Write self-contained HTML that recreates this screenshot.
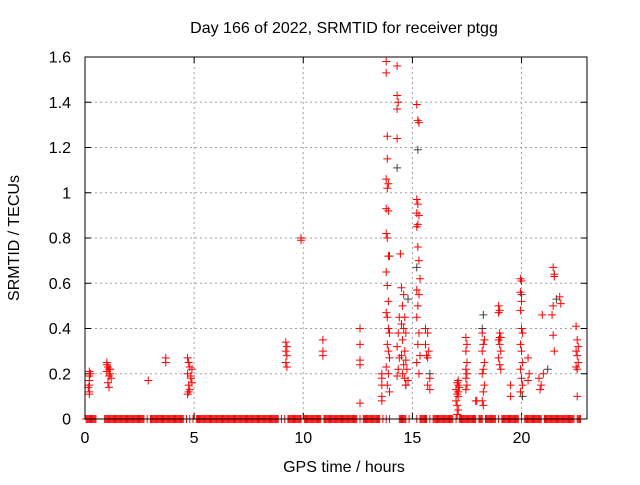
<!DOCTYPE html>
<html><head><meta charset="utf-8"><style>
body{margin:0;background:#fff;width:640px;height:480px;overflow:hidden}
text{font-family:"Liberation Sans",sans-serif;font-size:16px;fill:#000}
</style></head><body>
<svg id="chart" width="640" height="480" viewBox="0 0 640 480" xmlns="http://www.w3.org/2000/svg">
<text x="344" y="33" text-anchor="middle">Day 166 of 2022, SRMTID for receiver ptgg</text>
<text x="344" y="472" text-anchor="middle">GPS time / hours</text>
<text x="0" y="0" text-anchor="middle" transform="translate(19,238) rotate(-90)">SRMTID / TECUs</text>
<g id="grid"></g>
<g id="axes"></g>
<g id="black"></g>
<g id="red"></g>
<rect x="85" y="57" width="502" height="362" fill="none" stroke="#000" stroke-width="1"/>
</svg>
<script>
const xTicks=[0,5,10,15,20];
const yTicks=[0,0.2,0.4,0.6,0.8,1,1.2,1.4,1.6];
const yTickLabels=["0","0.2","0.4","0.6","0.8","1","1.2","1.4","1.6"];
const redHours=[0.2,0.2,0.2,0.2,0.2,0.25,0.15,0.2, 1.0,1.05,1.1,1.0,1.15,1.1,1.2,1.05,1.1,1.0,1.15, 2.9, 3.7,3.7, 4.7,4.75,4.8,4.7,4.85,4.75,4.8,4.7,4.9,4.85,4.9,4.75, 9.2,9.25,9.2,9.25,9.2,9.25, 9.9,9.9, 10.9,10.9,10.9, 12.6,12.6,12.6,12.6,12.6, 13.6,13.6,13.6,13.6,13.6];
const redValues=[0.12,0.15,0.17,0.19,0.21,0.2,0.14,0.11, 0.25,0.23,0.22,0.21,0.2,0.19,0.18,0.16,0.14,0.24,0.22, 0.17, 0.25,0.27, 0.27,0.25,0.23,0.2,0.18,0.15,0.13,0.11,0.22,0.19,0.16,0.12, 0.34,0.32,0.3,0.28,0.25,0.23, 0.8,0.79, 0.35,0.3,0.28, 0.4,0.33,0.26,0.24,0.07, 0.2,0.18,0.1,0.08,0.15];
const redHours2=[13.8,13.8,13.85,13.85,13.8,13.9,13.85,13.8,13.9,13.8,13.85,13.9,13.8,13.85,13.9,13.8,13.85,13.9,13.95,13.85,13.9,13.95,13.8,13.9,13.85,13.95, 14.3,14.3,14.35,14.3,14.3,14.45,14.4,14.35,14.3,14.4,14.35,14.3, 14.5,14.6,14.55,14.65,14.5,14.6,14.7,14.55,14.65,14.5,14.7,14.6,14.75,14.55,14.65,14.7,14.8, 15.2,15.25,15.3,15.2,15.25,15.2,15.3,15.25,15.2,15.25,15.3,15.35,15.2,15.3,15.25,15.2,15.3,15.25,15.35,15.2,15.3, 15.6,15.7,15.6,15.75,15.65,15.7,15.8,15.7,15.8];
const redValues2=[1.58,1.53,1.25,1.15,1.06,1.04,1.02,0.93,0.92,0.82,0.8,0.72,0.65,0.59,0.52,0.47,0.45,0.4,0.38,0.33,0.3,0.27,0.23,0.2,0.15,0.12, 1.56,1.43,1.4,1.37,1.24,0.73,0.45,0.38,0.32,0.27,0.22,0.19, 0.58,0.55,0.5,0.45,0.42,0.4,0.38,0.35,0.3,0.28,0.26,0.24,0.22,0.2,0.18,0.15,0.17, 1.39,1.32,1.31,0.97,0.95,0.91,0.9,0.86,0.85,0.76,0.7,0.62,0.57,0.55,0.5,0.45,0.38,0.33,0.28,0.25,0.2, 0.4,0.38,0.33,0.3,0.28,0.27,0.18,0.15,0.13];
const redHours3=[17.1,17.05,17.1,17.15,17.0,17.1,17.05,17.1,17.0,17.05,17.1,17.05, 17.45,17.5,17.45,17.5,17.45,17.5,17.45,17.5,17.45, 17.9,17.95, 18.2,18.3,18.25,18.2,18.3,18.25,18.2,18.3,18.25,18.2,18.25, 18.95,19.0,18.95,19.0,19.05,18.95,19.0,19.05,18.95,19.0,19.05, 19.5,19.5, 19.95,20.0,19.95,20.0,19.95,20.0,20.05,19.95,20.0,20.05,19.95,20.0,20.05,19.95, 20.3,20.35,20.3, 20.95,20.8,20.9,21.0,20.85, 21.45,21.5,21.5,21.45,21.4,21.45,21.5, 21.75,21.8, 22.5,22.55,22.6,22.5,22.55,22.6,22.5,22.55,22.55];
const redValues3=[0.17,0.16,0.15,0.14,0.13,0.12,0.11,0.1,0.08,0.06,0.04,0.02, 0.36,0.33,0.3,0.25,0.22,0.2,0.18,0.15,0.13, 0.08,0.08, 0.38,0.35,0.33,0.3,0.25,0.22,0.2,0.15,0.12,0.08,0.06, 0.5,0.48,0.47,0.38,0.36,0.35,0.33,0.3,0.27,0.24,0.22, 0.15,0.1, 0.62,0.61,0.56,0.52,0.48,0.4,0.38,0.33,0.3,0.25,0.22,0.18,0.15,0.12, 0.27,0.2,0.17, 0.46,0.18,0.15,0.2,0.13, 0.67,0.64,0.63,0.5,0.46,0.37,0.3, 0.54,0.51, 0.41,0.35,0.32,0.3,0.28,0.25,0.23,0.22,0.1];
const zeroHours=[0.05,0.2,0.35,0.5,0.9,1.05,1.2,1.35,1.5,1.65,1.8,1.95,2.1,2.25,2.4,2.55,2.7,2.85,3.0,3.15,3.3,3.45,3.6,3.75,3.9,4.05,4.2,4.35,4.5,4.65,4.8,4.95,5.1,5.25,5.4,5.55,5.7,5.85,6.0,6.15,6.3,6.45,6.6,6.75,6.9,7.05,7.2,7.35,7.5,7.65,7.8,7.95,8.1,8.25,8.4,8.55,8.7,8.85,9.0,9.15,9.3,9.45,9.6,9.75,9.9,10.05,10.2,10.35,10.5,10.65,10.8,10.95,11.1,11.25,11.4,11.55,11.7,11.85,12.0,12.15,12.3,12.45,12.6,12.75,12.9,13.05,13.2,13.35,13.5,13.65,13.8,13.95,14.4,14.55,14.7,14.85,15.2,15.35,15.5,15.65,15.8,15.95,16.1,16.25,16.4,16.55,16.7,16.85,17.0,17.15,17.3,17.45,17.6,17.75,17.9,18.05,18.2,18.35,18.5,18.65,18.8,18.95,19.1,19.25,19.4,19.55,19.7,19.85,20.0,20.15,20.3,20.45,20.6,20.75,20.9,21.05,21.2,21.35,21.5,21.65,21.8,21.95,22.1,22.25,22.4,22.55,22.7];
const zeroHoursB=[0.1,0.15,0.25,0.3,0.4,0.45,0.95,1.0,1.1,1.15,1.25,1.3,1.4,1.45,1.55,1.6,1.7,1.75,1.85,1.9,2.0,2.05,2.15,2.2,2.3,2.35,2.45,2.5,2.6,2.65,3.05,3.1,3.2,3.25,3.35,3.4,3.5,3.55,3.65,3.7,3.8,3.85,3.95,4.0,4.1,4.15,4.25,4.3,4.4,4.45,5.15,5.2,5.3,5.35,5.45,5.5,5.6,5.65,5.75,5.8,5.9,5.95,6.05,6.1,6.2,6.25,6.35,6.4,6.5,6.55,6.65,6.7,6.8,6.85,6.95,7.0,7.1,7.15,7.25,7.3,7.4,7.45,7.55,7.6,7.7,7.75,7.85,7.9,8.0,8.05,8.15,8.2,8.3,8.35,8.45,8.5,8.6,8.65,8.75,8.8,9.35,9.4,9.5,9.55,9.65,9.7,9.8,9.85,10.1,10.15,10.25,10.3,10.4,10.45,10.55,10.6,10.7,10.75,11.0,11.05,11.15,11.2,11.3,11.35,11.45,11.5,11.6,11.65,11.75,11.8,11.9,11.95,12.05,12.1,12.2,12.25,12.35,12.4,12.8,12.85,12.95,13.0,13.1,13.15,13.25,13.3,13.4,13.45,14.45,14.5,14.6,14.65,15.4,15.45,15.55,15.6,16.0,16.05,16.15,16.2,16.3,16.35,16.45,16.5,16.6,16.65,16.75,16.8,17.2,17.25,17.35,17.4,17.5,17.55,17.65,17.7,17.8,17.85,18.1,18.15,18.4,18.45,18.55,18.6,18.7,18.75,19.15,19.2,19.3,19.35,19.45,19.5,19.6,19.65,19.75,19.8,20.2,20.25,20.35,20.4,20.5,20.55,20.65,20.7,20.8,20.85,21.1,21.15,21.25,21.3,21.4,21.45,21.55,21.6,21.7,21.75,21.85,21.9,22.0,22.05,22.15,22.2,22.3,22.35,22.6,22.65];
const blackHours=[13.95,14.3,14.8,15.25,15.2,15.8,18.25,18.2,19.0,20.0,20.05,21.2,21.6,14.7];
const blackValues=[0.72,1.11,0.53,1.19,0.67,0.2,0.46,0.4,0.36,0.55,0.1,0.22,0.53,0.15];
const X0=85,X1=587,Y0=419,Y1=57,XMAX=23,YMAX=1.6;
const sx=h=>X0+(X1-X0)*h/XMAX, sy=v=>Y0-(Y0-Y1)*v/YMAX;
const NS="http://www.w3.org/2000/svg";
function mk(tag,attrs,parent){const e=document.createElementNS(NS,tag);for(const k in attrs)e.setAttribute(k,attrs[k]);parent.appendChild(e);return e;}
const grid=document.getElementById('grid'),axes=document.getElementById('axes');
xTicks.forEach(t=>{const x=sx(t);
 if(t>0){const g=mk('line',{x1:x,x2:x,y1:Y1,y2:Y0,stroke:'#a0a0a0','stroke-dasharray':'2,3'},grid);}
 mk('line',{x1:x,x2:x,y1:Y0,y2:Y0-6,stroke:'#000'},axes);mk('line',{x1:x,x2:x,y1:Y1,y2:Y1+6,stroke:'#000'},axes);
 const l=mk('text',{x:x,y:443,'text-anchor':'middle'},axes);l.textContent=t;
 
 });
yTicks.forEach((t,i)=>{const y=sy(t);
 if(t>0&&t<YMAX){const g=mk('line',{x1:X0,x2:X1,y1:y,y2:y,stroke:'#a0a0a0','stroke-dasharray':'2,3'},grid);}
 mk('line',{x1:X0,x2:X0+6,y1:y,y2:y,stroke:'#000'},axes);mk('line',{x1:X1,x2:X1-6,y1:y,y2:y,stroke:'#000'},axes);
 const l=mk('text',{x:71,y:y+5.5,'text-anchor':'end'},axes);l.textContent=yTickLabels[i];
 
 });
function plus(g,h,v,c){const x=sx(h),y=sy(v);
 const p=mk('path',{d:`M${x-4},${y}H${x+4}M${x},${y-4}V${y+4}`,stroke:c,'stroke-width':1,fill:'none'},g);
 
 }
const bg=document.getElementById('black'),rg=document.getElementById('red');
blackHours.forEach((h,i)=>plus(bg,h,blackValues[i],'#404040'));
redHours.forEach((h,i)=>plus(rg,h,redValues[i],'#ff0000'));
redHours2.forEach((h,i)=>plus(rg,h,redValues2[i],'#ff0000'));
redHours3.forEach((h,i)=>plus(rg,h,redValues3[i],'#ff0000'));
zeroHours.forEach(h=>plus(rg,h,0,'#ff0000'));
zeroHoursB.forEach(h=>plus(rg,h,0,'#ff0000'));
</script>
</body></html>
